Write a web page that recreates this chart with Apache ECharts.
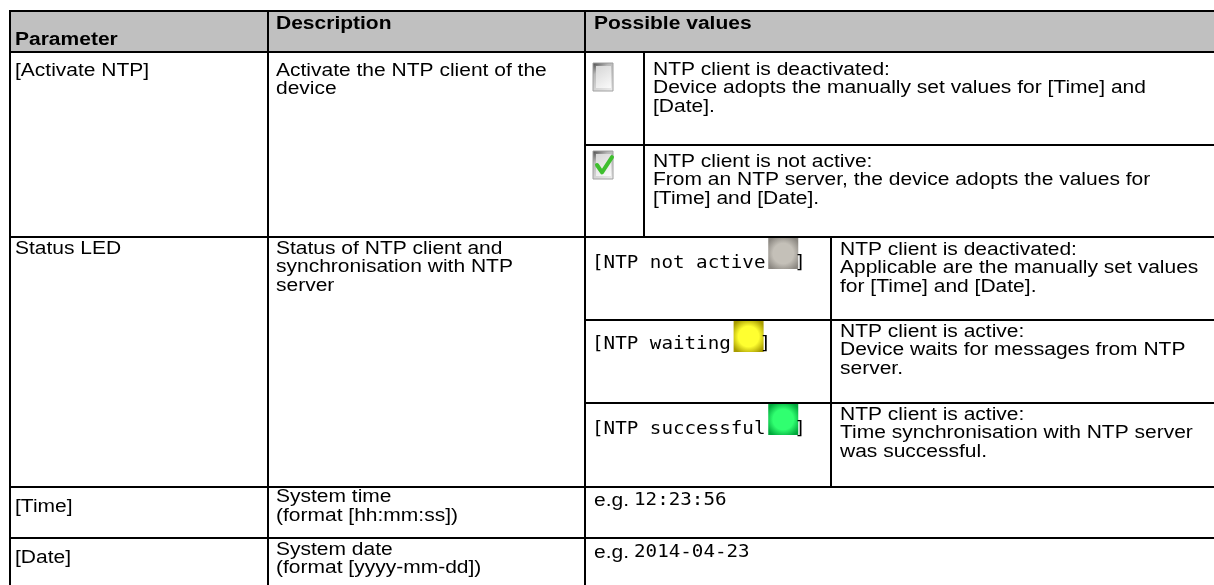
<!DOCTYPE html>
<html>
<head>
<meta charset="utf-8">
<script src="https://cdn.jsdelivr.net/npm/echarts@6/dist/echarts.min.js"></script>
<style>
html,body{margin:0;padding:0;background:#fff;}
#chart{width:1214px;height:585px;}
</style>
</head>
<body>
<div id="chart"></div>
<script>
// ---------- DATA ----------
const headers = ['Parameter', 'Description', 'Possible values'];
const parameters = ['[Activate NTP]', 'Status LED', '[Time]', '[Date]'];
const descriptions = [
  ['Activate the NTP client of the', 'device'],
  ['Status of NTP client and', 'synchronisation with NTP', 'server'],
  ['System time', '(format [hh:mm:ss])'],
  ['System date', '(format [yyyy-mm-dd])']
];
const checkboxStates = ['unchecked', 'checked'];
const checkboxTexts = [
  ['NTP client is deactivated:', 'Device adopts the manually set values for [Time] and', '[Date].'],
  ['NTP client is not active:', 'From an NTP server, the device adopts the values for', '[Time] and [Date].']
];
const ledStates = ['[NTP not active', '[NTP waiting', '[NTP successful'];
const ledKinds = ['off', 'waiting', 'ok'];
const ledTexts = [
  ['NTP client is deactivated:', 'Applicable are the manually set values', 'for [Time] and [Date].'],
  ['NTP client is active:', 'Device waits for messages from NTP', 'server.'],
  ['NTP client is active:', 'Time synchronisation with NTP server', 'was successful.']
];
const examplePrefix = 'e.g.';
const exampleValues = ['12:23:56', '2014-04-23'];

// ---------- LAYOUT ----------
const W = 1214, H = 585;
const layout = {
  left: 10, right: 1214,
  colX: [10, 268, 585],
  checkCol: 644, ledCol: 831,
  rowY: [11, 52, 237, 487, 538],
  checkSplitY: [145], ledSplitY: [320, 403],
  bottom: 600,
  lineH: 18.4,
  sx: 1.2, monoSx: 1.13,
  textX: [15, 276, 594], checkTextX: 653, ledTextX: 840, monoX: 592, exampleMonoX: 634,
  headerY: [40.5, 24, 24],
  paramY: [71, 249, 507, 558],
  descY: [71, 249, 497.5, 550],
  checkTextY: [70, 162],
  checkBoxY: [63, 151],
  ledTextY: [250, 332, 415],
  ledLabelY: [264, 345, 430],
  ledBoxY: [238, 321, 404],
  exampleY: [501, 553],
  monoCW: 11.55
};
const FONT = '17.5px "Liberation Sans", Arial, sans-serif';
const BOLD = 'bold 17.5px "Liberation Sans", Arial, sans-serif';
const MONO = '17px "DejaVu Sans Mono", monospace';

// ---------- BUILD ELEMENTS ----------
const lines = [];
layout.rowY.forEach(y => lines.push([layout.left - 1, y, layout.right, y]));
layout.checkSplitY.forEach(y => lines.push([layout.colX[2], y, layout.right, y]));
layout.ledSplitY.forEach(y => lines.push([layout.colX[2], y, layout.right, y]));
layout.colX.forEach(x => lines.push([x, layout.rowY[0] - 1, x, layout.bottom]));
lines.push([layout.checkCol, layout.rowY[1], layout.checkCol, layout.rowY[2]]);
lines.push([layout.ledCol, layout.rowY[2], layout.ledCol, layout.rowY[3]]);

const texts = [];
function addText(x, yc, lns, font, sx) {
  texts.push({x: x, y: yc - layout.lineH / 2, text: lns.join('\n'), font: font, sx: sx});
}
headers.forEach((h, i) => addText(layout.textX[i], layout.headerY[i], [h], BOLD, layout.sx));
parameters.forEach((p, i) => addText(layout.textX[0], layout.paramY[i], [p], FONT, layout.sx));
descriptions.forEach((d, i) => addText(layout.textX[1], layout.descY[i], d, FONT, layout.sx));
checkboxTexts.forEach((t, i) => addText(layout.checkTextX, layout.checkTextY[i], t, FONT, layout.sx));
ledTexts.forEach((t, i) => addText(layout.ledTextX, layout.ledTextY[i], t, FONT, layout.sx));
const icons = [];
ledStates.forEach((s, i) => {
  addText(layout.monoX, layout.ledLabelY[i], [s], MONO, layout.monoSx);
  const bx = layout.monoX + s.length * layout.monoCW + 3;
  icons.push({kind: ledKinds[i], x: bx, y: layout.ledBoxY[i], w: 30, h: 31});
  addText(bx + 26, layout.ledLabelY[i], [']'], MONO, layout.monoSx);
});
exampleValues.forEach((v, i) => {
  addText(layout.textX[2], layout.exampleY[i], [examplePrefix], FONT, layout.sx);
  addText(layout.exampleMonoX, layout.exampleY[i], [v], MONO, layout.monoSx);
});
checkboxStates.forEach((s, i) => {
  icons.push({kind: s, x: 593, y: layout.checkBoxY[i], w: 20, h: 28});
});

// ---------- CHART ----------
const chart = echarts.init(document.getElementById('chart'), null, {renderer: 'canvas'});
const ledFill = {
  off: ['#c4c0b8', '#8c8882'],
  waiting: ['#ffff30', '#a89c00'],
  ok: ['#30ff70', '#00a83c']
};
function iconEl(ic, api) {
  const p = api.coord([ic.x, ic.y]);
  const q = api.coord([ic.x + ic.w, ic.y + ic.h]);
  const w = q[0] - p[0], h = q[1] - p[1];
  if (ledFill[ic.kind]) {
    const c = ledFill[ic.kind];
    return {type: 'rect', shape: {x: p[0], y: p[1], width: w, height: h},
      style: {fill: {type: 'radial', x: 0.5, y: 0.5, r: 0.62,
        colorStops: [{offset: 0, color: c[0]}, {offset: 0.55, color: c[0]}, {offset: 1, color: c[1]}]}}};
  }
  const children = [
    {type: 'rect', shape: {x: p[0], y: p[1], width: w, height: h},
      style: {fill: {type: 'linear', x: 0, y: 0, x2: 1, y2: 1,
        colorStops: [{offset: 0, color: '#404040'}, {offset: 0.3, color: '#b8b8b8'}, {offset: 1, color: '#f0f0f0'}]},
        stroke: '#a0a0a0', lineWidth: 1}},
    {type: 'rect', shape: {x: p[0] + 3, y: p[1] + 3, width: w - 5, height: h - 6},
      style: {fill: {type: 'linear', x: 0, y: 0, x2: 1, y2: 1,
        colorStops: [{offset: 0, color: '#d6d6d6'}, {offset: 1, color: '#fafafa'}]}}}
  ];
  if (ic.kind === 'checked') {
    children.push({type: 'polyline', shape: {points: [[p[0] + 4, p[1] + h * 0.5], [p[0] + 9, p[1] + h * 0.76], [p[0] + w - 1, p[1] + h * 0.22]]},
      style: {stroke: '#3fbf2f', lineWidth: 4, fill: null, lineJoin: 'round', lineCap: 'round'}});
  }
  return {type: 'group', children: children};
}

chart.setOption({
  animation: false,
  grid: {left: 0, right: 0, top: 0, bottom: 0},
  xAxis: {type: 'value', min: 0, max: W, show: false},
  yAxis: {type: 'value', min: 0, max: H, inverse: true, show: false},
  series: [
    {
      type: 'custom', name: 'header', clip: false, silent: true, z: 1,
      data: [[layout.left, layout.rowY[0], layout.right, layout.rowY[1]]],
      renderItem: (params, api) => {
        const a = api.coord([api.value(0), api.value(1)]);
        const b = api.coord([api.value(2), api.value(3)]);
        return {type: 'rect', shape: {x: a[0], y: a[1], width: b[0] - a[0], height: b[1] - a[1]}, style: {fill: '#c0c0c0'}};
      }
    },
    {
      type: 'custom', name: 'icons', clip: false, silent: true, z: 2,
      data: icons.map((ic, i) => [ic.x, ic.y, i]),
      renderItem: (params, api) => iconEl(icons[params.dataIndex], api)
    },
    {
      type: 'custom', name: 'texts', clip: false, silent: true, z: 3,
      data: texts.map((t, i) => [t.x, t.y, i]),
      renderItem: (params, api) => {
        const t = texts[params.dataIndex];
        const p = api.coord([t.x, t.y]);
        return {type: 'text', x: p[0], y: p[1], scaleX: t.sx,
          style: {text: t.text, font: t.font, fill: '#000', align: 'left', verticalAlign: 'top', lineHeight: layout.lineH}};
      }
    },
    {
      type: 'custom', name: 'rules', clip: false, silent: true, z: 4,
      data: lines,
      renderItem: (params, api) => {
        const a = api.coord([api.value(0), api.value(1)]);
        const b = api.coord([api.value(2), api.value(3)]);
        return {type: 'line', shape: {x1: a[0], y1: a[1], x2: b[0], y2: b[1]}, style: {stroke: '#000', lineWidth: 2}};
      }
    }
  ]
});
</script>
</body>
</html>
